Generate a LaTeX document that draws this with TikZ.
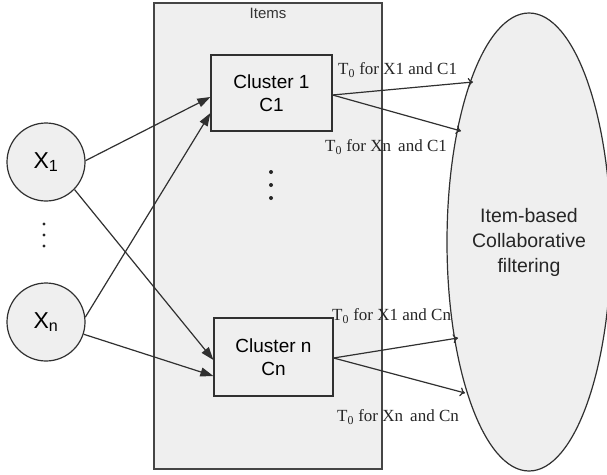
\documentclass[tikz,border=0pt]{standalone}
\usepackage{fontspec}
\setmainfont{Liberation Sans}
\newfontfamily\serifx{Liberation Serif}
\usetikzlibrary{arrows.meta,shapes.geometric}
\definecolor{boxfill}{HTML}{EFEFEF}
\definecolor{linec}{HTML}{303030}
\begin{document}
\begin{tikzpicture}[x=1pt,y=-1pt,
  clusterbox/.style={draw=linec,line width=1.2pt,fill=boxfill,inner sep=0pt,align=center,
    font=\fontsize{19}{23}\selectfont},
  xcirc/.style={circle,draw=linec,line width=1.2pt,fill=boxfill,minimum size=78pt,inner sep=0pt,
    font=\fontsize{23}{26}\selectfont},
  inarrow/.style={draw=linec,line width=1.2pt,-{Triangle[length=13pt,width=9pt]}},
  outarrow/.style={draw=linec,line width=1.2pt,-{To[length=5pt,width=9pt]}},
  tlabel/.style={anchor=west,inner sep=0pt,font=\serifx\fontsize{17}{19}\selectfont,text=black!85},
  dotc/.style={fill=black!85}
]
\fill[white] (0,0) rectangle (607,474);
\useasboundingbox (0,0) rectangle (607,474);

% Items panel
\node[draw=linec!90,line width=1.2pt,fill=boxfill,minimum width=228pt,minimum height=466pt,inner sep=0pt] (items) at (268,236) {};
\node[font=\fontsize{15}{17}\selectfont,text=black!80,inner sep=0pt] (itemslbl) at (268,13) {Items};

% clusters
\node[clusterbox,minimum width=121pt,minimum height=76pt] (c1) at (271.5,93) {Cluster 1\\C1};
\node[clusterbox,minimum width=119pt,minimum height=78pt] (cn) at (273.5,357) {Cluster n\\Cn};

% dots inside items
\fill[dotc] (271,172) circle (2pt) (271,185) circle (2pt) (271,198) circle (2pt);

% user circles
\node[xcirc] (x1) at (46,162) {X\textsubscript{1}};
\node[xcirc] (xn) at (46,322) {X\textsubscript{n}};
\fill[dotc] (44,224) circle (1.6pt) (44,235) circle (1.6pt) (44,246) circle (1.6pt);

% ellipse
\node[ellipse,draw=linec,line width=1.2pt,fill=boxfill,minimum width=164pt,minimum height=458pt,inner sep=0pt,
  align=center,font=\fontsize{19.5}{25}\selectfont,text=black!85] (cf) at (529,242)
  {Item-based\\Collaborative\\filtering};

% arrows from users to clusters
\draw[inarrow] (x1.2) -- ([yshift=-4pt]c1.west);
\draw[inarrow] (xn.7) -- ([yshift=-20pt]c1.west);
\draw[inarrow] (x1.-44) -- ([yshift=-3pt]cn.west);
\draw[inarrow] (xn.-18) -- ([yshift=-19pt]cn.west);

% arrow targets on the ellipse
\coordinate (e1) at (473,82);
\coordinate (e2) at (461,131);
\coordinate (e3) at (458,338);
\coordinate (e4) at (465,393);

\draw[outarrow] ([yshift=-2pt]c1.east) -- (e1);
\draw[outarrow] ([yshift=-2pt]c1.east) -- (e2);
\draw[outarrow] ([yshift=-1pt]cn.east) -- (e3);
\draw[outarrow] ([yshift=-1pt]cn.east) -- (e4);

% labels
\node[tlabel] (l1) at (338,70) {T\textsubscript{0} for X1 and C1};
\node[tlabel] (l2) at (325,147) {T\textsubscript{0} for Xn\, and C1};
\node[tlabel] (l3) at (332,316) {T\textsubscript{0} for X1 and Cn};
\node[tlabel] (l4) at (337,417) {T\textsubscript{0} for Xn\, and Cn};
\end{tikzpicture}
\end{document}
